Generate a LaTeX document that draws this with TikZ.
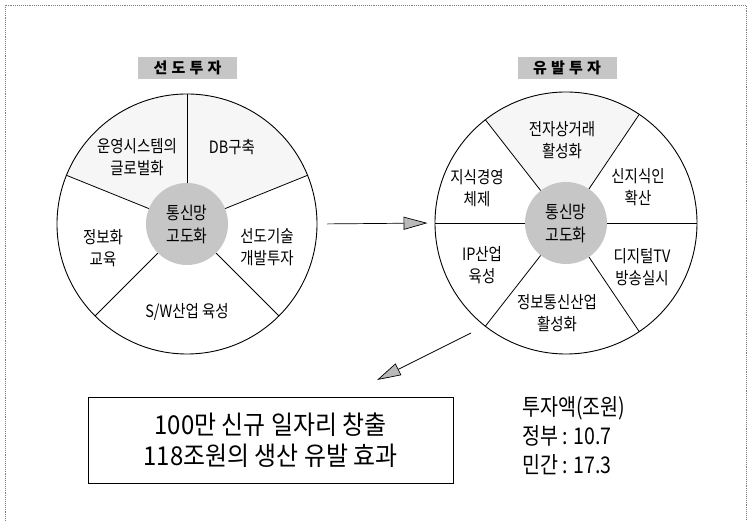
\documentclass[tikz,border=0pt]{standalone}
\usepackage{fontspec}
\newfontfamily\kr[FakeStretch=0.85]{Noto Sans CJK KR}
\newfontfamily\krw[FakeStretch=0.92]{Noto Sans CJK KR}
\newfontfamily\krt[LetterSpace=28]{Noto Sans CJK KR}
\usetikzlibrary{arrows.meta}
\begin{document}
\begin{tikzpicture}[x=1pt,y=1pt,
  lbl/.style={font=\kr\fontsize{17}{22}\selectfont, align=center, inner sep=0pt},
  ttl/.style={fill=gray!45, font=\krt\bfseries\fontsize{15}{18}\selectfont, minimum width=99pt, minimum height=22pt, inner sep=0pt},
  ring/.style={circle, draw, line width=0.9pt, inner sep=0pt},
  hub/.style={circle, fill=gray!45, inner sep=0pt, minimum size=82pt, align=center, font=\kr\fontsize{17.5}{23}\selectfont},
  spoke/.style={line width=0.8pt},
  shade/.style={fill=gray!7},
  arr/.style={line width=0.7pt, -{Triangle[length=24pt,width=13pt,fill=gray!55]}},
  framestyle/.style={gray, densely dotted, line width=0.9pt}
]
\useasboundingbox (0,0) rectangle (753,521);
\draw[framestyle] (5,0) -- (5,516) -- (746,516) -- (746,0);

% ---------- left wheel ----------
\fill[shade] (187,297) -- ++(22:130) arc[start angle=22,end angle=158,radius=130] -- cycle;
\node[ring, minimum size=260pt] (Lout) at (187,297) {};
\node[hub] (Lin) at (187,297) {통신망\\고도화};
\foreach \a in {90,22,-45,-135,158} \draw[spoke] (Lin.\a) -- (Lout.\a);
\node[ttl] (Lt) at (187.5,453) {선도투자};
\node[lbl] (L1) at (137,364) {운영시스템의\\글로벌화};
\node[lbl] (L2) at (232,374) {DB구축};
\node[lbl] (L3) at (267,274) {선도기술\\개발투자};
\node[lbl] (L4) at (187,209) {S/W산업 육성};
\node[lbl] (L5) at (103,273) {정보화\\교육};

% ---------- right wheel ----------
\fill[shade] (566,298) -- ++(56:131) arc[start angle=56,end angle=128,radius=131] -- cycle;
\node[ring, minimum size=262pt] (Rout) at (566,298) {};
\node[hub] (Rin) at (566,298) {통신망\\고도화};
\foreach \a in {0,56,128,180,232,304} \draw[spoke] (Rin.\a) -- (Rout.\a);
\node[ttl] (Rt) at (567,453) {유발투자};
\node[lbl] (R1) at (562,381) {전자상거래\\활성화};
\node[lbl] (R2) at (638,334) {신지식인\\확산};
\node[lbl] (R3) at (642,254) {디지털TV\\방송실시};
\node[lbl] (R4) at (557,208) {정보통신산업\\활성화};
\node[lbl] (R5) at (482,256) {IP산업\\육성};
\node[lbl] (R6) at (477,333) {지식경영\\체제};

% ---------- arrows ----------
\draw[arr, shorten <=10pt, shorten >=7pt] (Lout.east) -- (Rout.west);
\coordinate (d1) at (471,188);
\coordinate (d2) at (377,141);
\draw[arr] (d1) -- (d2);

% ---------- result ----------
\node[draw, line width=0.9pt, minimum width=365pt, minimum height=86pt, align=center,
      font=\krw\fontsize{26}{31}\selectfont, inner sep=0pt] (res) at (270.5,81)
      {100만 신규 일자리 창출\\118조원의 생산 유발 효과};
\node[anchor=west, align=left, inner sep=0pt, font=\kr\fontsize{23}{29}\selectfont] (inv) at (522,85)
      {투자액(조원)\\정부 : 10.7\\민간 : 17.3};
\end{tikzpicture}
\end{document}
